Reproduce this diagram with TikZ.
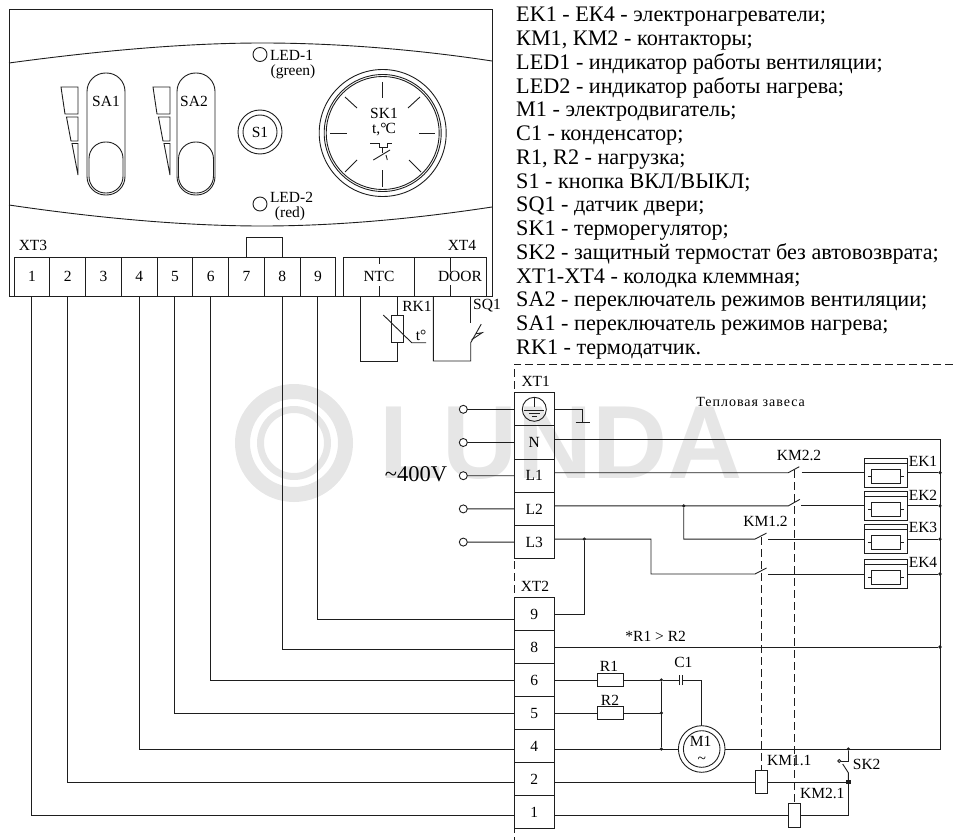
\documentclass[tikz,border=0pt]{standalone}
\usepackage{fontspec}
\setmainfont{Liberation Serif}
\newfontfamily\wmfont{Liberation Sans}
\usepackage{xcolor}
\usetikzlibrary{positioning}
\definecolor{inkline}{HTML}{1E1E1E}
\definecolor{wmgray}{HTML}{E6E6E6}
\tikzstyle{wire}     = [draw=inkline, line width=0.9pt]
\tikzstyle{link}     = [draw=inkline, line width=0.9pt, dash pattern=on 8pt off 4pt]
\tikzstyle{lbl}      = [font=\fontsize{15.5}{17}\selectfont, inner sep=0pt, outer sep=0pt]
\tikzstyle{legend}   = [font=\fontsize{22.2}{23.75}\selectfont, inner sep=0pt, align=left, anchor=north west]
\tikzstyle{xtcell}   = [rectangle, wire, lbl, minimum width=35.75pt, minimum height=39pt]
\tikzstyle{sidecell} = [rectangle, wire, lbl, minimum width=71.5pt, minimum height=39pt]
\tikzstyle{boxcell}  = [rectangle, wire, lbl, minimum width=40pt, minimum height=33.2pt]
\tikzstyle{ring}     = [circle, wire, inner sep=0pt, outer sep=0pt]
\tikzstyle{slotbox}  = [rectangle, wire, rounded corners=18.5pt, minimum width=38pt, inner sep=0pt, outer sep=0pt]
\tikzstyle{part}     = [rectangle, wire, inner sep=0pt, outer sep=0pt]
\tikzstyle{dot}      = [circle, fill=inkline, minimum size=3.6pt, inner sep=0pt, outer sep=0pt]
\tikzstyle{jack}     = [circle, wire, fill=white, minimum size=8pt, inner sep=0pt, outer sep=0pt]
\begin{document}
\begin{tikzpicture}[x=1pt, y=-1pt]
    \path [use as bounding box] (0,0) rectangle (953,840);

    \node (wmring) [circle, draw=wmgray, line width=15pt, minimum size=103pt, inner sep=0pt, outer sep=0pt] at (294,443) {};
    \node (wmcore) [circle, draw=wmgray, line width=7pt, minimum size=67pt, inner sep=0pt, outer sep=0pt] at (294,443) {};
    \node (wmtext) [text=wmgray, font=\wmfont\bfseries\fontsize{104}{108}\selectfont, inner sep=0pt] at (561,443) {LUNDA};

    \node (panel) [part, minimum width=483pt, minimum height=287pt] at (250.5,152.5) {};
    \draw [wire] (panel.north west |- 0,63) .. controls (90,52) and (180,43) .. (262,43) .. controls (340,43) and (420,50) .. (panel.north east |- 0,61);
    \draw [wire] (panel.north west |- 0,205) .. controls (90,217) and (180,226) .. (262,226) .. controls (340,226) and (420,218) .. (panel.north east |- 0,207);

    \node (led1) [ring, minimum size=14pt] at (260,54.5) {};
    \node (led2) [ring, minimum size=14pt] at (260,204) {};
    \node (txtled1) [lbl, anchor=west] at (270,55) {LED-1};
    \node (txtgreen) [lbl] at (293,72) {(green)};
    \node (txtled2) [lbl, anchor=west] at (270,197) {LED-2};
    \node (txtred) [lbl] at (290,214) {(red)};

    \node (sa1) [slotbox, minimum height=122pt] at (106,134) {};
    \node (sa1knob) [slotbox, minimum width=34pt, rounded corners=16.5pt, minimum height=51pt] at (106,167.5) {};
    \node (txtsa1) [lbl] at (106,101) {SA1};
    \node (sa2) [slotbox, minimum height=122pt] at (196,134) {};
    \node (sa2knob) [slotbox, minimum width=35pt, rounded corners=17pt, minimum height=51pt] at (196,167.5) {};
    \node (txtsa2) [lbl] at (194,101) {SA2};

    \draw [wire] (61,87) -- (78,87) -- (78,114) -- (65,114) -- cycle;
    \draw [wire] (66.5,117) -- (78,117) -- (78,141) -- (71,141) -- cycle;
    \draw [wire] (72,143.5) -- (78,143.5) -- (78,175) -- cycle;
    \draw [wire] (153,87) -- (170,87) -- (170,114) -- (157,114) -- cycle;
    \draw [wire] (158.5,117) -- (170,117) -- (170,141) -- (163,141) -- cycle;
    \draw [wire] (164,143.5) -- (170,143.5) -- (170,175) -- cycle;

    \node (s1out) [ring, minimum size=44pt] at (260,132) {};
    \node (s1) [ring, lbl, minimum size=34pt] at (260,132) {S1};

    \node (sk1out) [ring, minimum size=127pt] at (382.7,133) {};
    \node (sk1mid) [ring, minimum size=117pt] at (382.7,133) {};
    \node (sk1in) [ring, minimum size=113pt] at (382.7,133) {};
    \node (txtsk1) [lbl] at (384,113) {SK1};
    \node (txttemp) [lbl] at (384,130) {t,°\kern-1pt C};
    \draw [wire] (382.7,82) -- (382.7,98);
    \draw [wire] (382.7,170) -- (382.7,187);
    \draw [wire] (330,133) -- (347,133);
    \draw [wire] (419,133) -- (435,133);
    \draw [wire] (345,97) -- (357,108);
    \draw [wire] (420,97) -- (408,108);
    \draw [wire] (345,172) -- (357,160);
    \draw [wire] (421,172) -- (409,160);
    \draw [wire] (370,143.3) -- (379,143.3) -- (379,147.7) -- (387.3,147.7) -- (387.3,143.3) -- (392.3,143.3);
    \draw [wire] (382.7,147.7) -- (382.7,153);
    \draw [wire] (373.3,160) -- (390,150);
    \draw [wire] (386,155) -- (387.3,160);

    \node (t1) [xtcell] at (31.9,276.5) {1};
    \node (t2) [xtcell, right=0pt of t1] {2};
    \node (t3) [xtcell, right=0pt of t2] {3};
    \node (t4) [xtcell, right=0pt of t3] {4};
    \node (t5) [xtcell, right=0pt of t4] {5};
    \node (t6) [xtcell, right=0pt of t5] {6};
    \node (t7) [xtcell, right=0pt of t6] {7};
    \node (t8) [xtcell, right=0pt of t7] {8};
    \node (t9) [xtcell, right=0pt of t8] {9};
    \node (txtxt3) [lbl] at (33,245) {XT3};
    \draw [wire] (t7.north) -- ++(0,-20) -| (t8.north);

    \node (ntc) [sidecell] at (379,276.5) {NTC};
    \node (door) [sidecell, right=0pt of ntc] {};
    \node (txtdoor) [lbl] at (460,276.5) {DOOR};
    \node (txtxt4) [lbl] at (462,245) {XT4};
    \draw [wire] (ntc.north) -- ++(0,7);
    \draw [wire] (ntc.south) -- ++(0,-10);
    \draw [wire] (door.north) -- ++(0,15);
    \draw [wire] (door.south) -- ++(0,-11);

    \node (rk1) [part, minimum width=11.6pt, minimum height=27.7pt] at (397.5,329) {};
    \coordinate (ntcleft) at (360,296);
    \node (txtrk1) [lbl] at (417,306) {RK1};
    \node (txtt) [lbl] at (421,335) {t°};
    \draw [wire] (rk1.north) -- (rk1.north |- ntc.south);
    \draw [wire] (rk1.south) -- ++(0,18.3) -| (ntcleft);
    \draw [wire] (383.3,315) -- (411.7,342.7) -- (426,342.7);

    \coordinate (sq1left) at (433.3,296);
    \coordinate (sq1top) at (470.7,296);
    \coordinate (sq1low) at (470.7,342.7);
    \node (txtsq1) [lbl] at (487,306) {SQ1};
    \draw [wire] (sq1top) -- ++(0,27.3);
    \draw [wire] (sq1left) |- ++(37.4,65) -- (sq1low) -- ++(10.5,-18.5);
    \draw [wire] (sq1low) ++(1,-3) -- ++(10.5,-7) -- ++(-6,1);

    \node (legendlist) [legend] at (516,7) {%
EK1 - ЕК4 - электронагреватели;\\
КМ1, КМ2 - контакторы;\\
LED1 - индикатор работы вентиляции;\\
LED2 - индикатор работы нагрева;\\
М1 - электродвигатель;\\
С1 - конденсатор;\\
R1, R2 - нагрузка;\\
S1 - кнопка ВКЛ/ВЫКЛ;\\
SQ1 - датчик двери;\\
SK1 - терморегулятор;\\
SK2 - защитный термостат без автовозврата;\\
ХТ1-ХТ4 - колодка клеммная;\\
SA2 - переключатель режимов вентиляции;\\
SA1 - переключатель режимов нагрева;\\
RK1 - термодатчик.};

    \coordinate (frameright) at (953,364);
    \coordinate (framecorner) at (514.3,364);
    \coordinate (framelow) at (514.3,840);
    \draw [link] (frameright) -- (framecorner) -- (framelow);

    \node (txtxt1) [lbl] at (535.7,381) {XT1};
    \node (pe) [boxcell] at (534.3,409.3) {};
    \node (n) [boxcell, below=0pt of pe] {N};
    \node (l1) [boxcell, below=0pt of n] {L1};
    \node (l2) [boxcell, below=0pt of l1] {L2};
    \node (l3) [boxcell, below=0pt of l2] {L3};
    \node (txtxt2) [lbl] at (535,586) {XT2};
    \node (k9) [boxcell, minimum height=33pt] at (534.3,614) {9};
    \node (k8) [boxcell, minimum height=33pt, below=0pt of k9] {8};
    \node (k6) [boxcell, minimum height=33pt, below=0pt of k8] {6};
    \node (k5) [boxcell, minimum height=33pt, below=0pt of k6] {5};
    \node (k4) [boxcell, minimum height=33pt, below=0pt of k5] {4};
    \node (k2) [boxcell, minimum height=33pt, below=0pt of k4] {2};
    \node (k1) [boxcell, minimum height=33pt, below=0pt of k2] {1};
    \node (txtcurtain) [lbl, font=\fontsize{14}{15}\selectfont\addfontfeature{LetterSpace=7}] at (750.7,402) {Тепловая завеса};

    \node (pesym) [ring, minimum size=24pt] at (pe.center) {};
    \draw [wire] (pesym.north) -- ++(0,10);
    \draw [wire] ([xshift=-10pt,yshift=-1pt]pesym.center) -- ([xshift=10pt,yshift=-1pt]pesym.center);
    \draw [wire] ([xshift=-5.5pt,yshift=-4pt]pesym.center) -- ([xshift=5.5pt,yshift=-4pt]pesym.center);
    \draw [wire] ([xshift=-2.5pt,yshift=-7pt]pesym.center) -- ([xshift=2.5pt,yshift=-7pt]pesym.center);
    \coordinate (gnd) at (582.7,422.7);
    \draw [wire] (pe.east) -| (gnd);
    \draw [wire] ([xshift=-7pt]gnd) -- ([xshift=7pt]gnd);

    \node (in0) [jack] at (463.3,409.3) {};
    \node (in1) [jack] at (463.3,442.5) {};
    \node (in2) [jack] at (463.3,475.7) {};
    \node (in3) [jack] at (463.3,508.9) {};
    \node (in4) [jack] at (463.3,542.1) {};
    \node (txt400) [lbl, font=\fontsize{22.5}{24}\selectfont] at (416,474.5) {\textasciitilde400V};
    \draw [wire] (in0) -- (pe.west);
    \draw [wire] (in1) -- (n.west);
    \draw [wire] (in2) -- (l1.west);
    \draw [wire] (in3) -- (l2.west);
    \draw [wire] (in4) -- (l3.west);

    \draw [wire] (t9.south) |- ([yshift=-5pt]k9.west);
    \draw [wire] (t8.south) |- ([yshift=-2pt]k8.west);
    \draw [wire] (t6.south) |- (k6.west);
    \draw [wire] (t5.south) |- (k5.west);
    \draw [wire] (t4.south) |- ([yshift=-3pt]k4.west);
    \draw [wire] (t2.south) |- ([yshift=-3pt]k2.west);
    \draw [wire] (t1.south) |- ([yshift=-3pt]k1.west);

    \node (ek1) [part, minimum width=43.4pt, minimum height=29pt] at (886,472.7) {};
    \node (ek2) [part, minimum width=43.4pt, minimum height=29pt] at (886,505.9) {};
    \node (ek3) [part, minimum width=43.4pt, minimum height=29pt] at (886,539.1) {};
    \node (ek4) [part, minimum width=43.4pt, minimum height=29pt] at (886,574) {};
    \node (ek1in) [part, minimum width=28.3pt, minimum height=14pt] at ([yshift=-3.6pt]ek1.center) {};
    \node (ek2in) [part, minimum width=28.3pt, minimum height=14pt] at ([yshift=-3.6pt]ek2.center) {};
    \node (ek3in) [part, minimum width=28.3pt, minimum height=14pt] at ([yshift=-3.6pt]ek3.center) {};
    \node (ek4in) [part, minimum width=28.3pt, minimum height=14pt] at ([yshift=-3.6pt]ek4.center) {};
    \draw [wire] ([yshift=-5pt]ek1.north west) -- ([yshift=-5pt]ek1.north east);
    \draw [wire] ([yshift=-5pt]ek2.north west) -- ([yshift=-5pt]ek2.north east);
    \draw [wire] ([yshift=-5pt]ek3.north west) -- ([yshift=-5pt]ek3.north east);
    \draw [wire] ([yshift=-5pt]ek4.north west) -- ([yshift=-5pt]ek4.north east);
    \draw [wire] ([xshift=-4pt]ek1in.west) -- (ek1in.west);
    \draw [wire] ([xshift=4pt]ek1in.east) -- (ek1in.east);
    \draw [wire] ([xshift=-4pt]ek2in.west) -- (ek2in.west);
    \draw [wire] ([xshift=4pt]ek2in.east) -- (ek2in.east);
    \draw [wire] ([xshift=-4pt]ek3in.west) -- (ek3in.west);
    \draw [wire] ([xshift=4pt]ek3in.east) -- (ek3in.east);
    \draw [wire] ([xshift=-4pt]ek4in.west) -- (ek4in.west);
    \draw [wire] ([xshift=4pt]ek4in.east) -- (ek4in.east);
    \node (txtek1) [lbl] at (923,461.7) {EK1};
    \node (txtek2) [lbl] at (923,495) {EK2};
    \node (txtek3) [lbl] at (923,527.3) {EK3};
    \node (txtek4) [lbl] at (923,562.7) {EK4};

    \coordinate (sw1a) at (788.3,472.7);
    \coordinate (sw1b) at (801.7,472.7);
    \coordinate (sw2a) at (788.3,505.9);
    \coordinate (sw2b) at (801,505.9);
    \coordinate (sw3a) at (755,539.1);
    \coordinate (sw3b) at (768.3,539.1);
    \coordinate (sw4a) at (755,574);
    \coordinate (sw4b) at (768.3,574);
    \coordinate (l3bend) at (651,539.1);
    \coordinate (buscorner) at (940,749);
    \node (bus1) [dot] at (940,472.7) {};
    \node (bus2) [dot] at (940,505.9) {};
    \node (bus3) [dot] at (940,539.1) {};
    \node (bus4) [dot] at (940,574) {};
    \node (bus8) [dot] at (940,647) {};
    \node (l2dot) [dot] at (683.7,505.9) {};
    \node (l3dot) [dot] at (584.3,539.1) {};
    \node (txtkm22) [lbl] at (799,455) {KM2.2};
    \node (txtkm12) [lbl] at (765.5,521.5) {KM1.2};
    \node (txtnote) [lbl] at (655.7,636.7) {*R1 > R2};

    \draw [wire] ([yshift=3pt]l1.east) -- (sw1a) -- ++(11,-6);
    \draw [wire] (sw1b) -- (ek1.west);
    \draw [wire] ([yshift=3pt]l2.east) -- (sw2a) -- ++(11.5,-6.5);
    \draw [wire] (sw2b) -- (ek2.west);
    \draw [wire] (l2dot) |- (sw3a) -- ++(11.5,-6);
    \draw [wire] (sw3b) -- (ek3.west);
    \draw [wire] ([yshift=3pt]l3.east) -- (l3bend) |- (sw4a) -- ++(11.5,-6);
    \draw [wire] (sw4b) -- (ek4.west);
    \draw [wire] (ek1.east) -- (bus1);
    \draw [wire] (ek2.east) -- (bus2);
    \draw [wire] (ek3.east) -- (bus3);
    \draw [wire] (ek4.east) -- (bus4);
    \draw [wire] (l3dot) |- (k9.east);
    \draw [wire] (k8.east) -- (bus8);

    \node (r1) [part, minimum width=26pt, minimum height=13.3pt] at (610.3,680) {};
    \node (r2) [part, minimum width=26pt, minimum height=13.3pt] at (610.3,713) {};
    \node (txtr1) [lbl] at (609,666) {R1};
    \node (txtr2) [lbl] at (610,700) {R2};
    \node (txtc1) [lbl] at (683.3,662.7) {C1};
    \node (d6) [dot] at (661.3,680) {};
    \node (d5) [dot] at (661.3,713) {};
    \node (d4) [dot] at (661.3,749) {};
    \coordinate (c1left) at (679,680);
    \coordinate (c1right) at (682,680);
    \node (m1out) [ring, minimum size=46.6pt] at (701.7,749) {};
    \node (m1) [ring, minimum size=36.6pt] at (701.7,749) {};
    \node (txtm1) [lbl] at (700.7,741) {M1};
    \node (txtac) [lbl] at (701.7,760) {\textasciitilde};

    \draw [wire] ([yshift=3pt]n.east) -| (buscorner) -- (m1out.east);
    \draw [wire] (k6.east) -- (r1.west);
    \draw [wire] (r1.east) -- (d6) -- (c1left);
    \draw [wire] ([yshift=-5pt]c1left) -- ([yshift=5pt]c1left);
    \draw [wire] ([yshift=-5pt]c1right) -- ([yshift=5pt]c1right);
    \draw [wire] (c1right) -| (m1out.north);
    \draw [wire] (k5.east) -- (r2.west);
    \draw [wire] (r2.east) -- (d5);
    \draw [wire] (d6) -- (d4);
    \draw [wire] ([yshift=-3pt]k4.east) -- (m1out.west);

    \node (km11) [part, fill=white, minimum width=11.6pt, minimum height=23.4pt] at (761.5,782) {};
    \node (km21) [part, fill=white, minimum width=12pt, minimum height=24pt] at (794.7,815) {};
    \node (txtkm11) [lbl] at (789.3,760.7) {KM1.1};
    \node (txtkm21) [lbl] at (822.3,793) {KM2.1};
    \coordinate (km1top) at (761.5,537);
    \coordinate (km2top) at (794.7,470);
    \draw [link] (km1top) -- (km11.north);
    \draw [link] (km2top) -- (km21.north);

    \node (sk2top) [dot] at (848.3,749) {};
    \node (sk2low) [rectangle, fill=inkline, minimum size=4.4pt, inner sep=0pt, outer sep=0pt] at (848.3,782) {};
    \node (sk2pin) [circle, wire, fill=white, minimum size=3pt, inner sep=0pt, outer sep=0pt] at (839.3,761) {};
    \node (txtsk2) [lbl] at (866.7,764.3) {SK2};
    \draw [wire] ([yshift=-3pt]k2.east) -- (km11.west);
    \draw [wire] (km11.east) -- (sk2low);
    \draw [wire] ([yshift=-3pt]k1.east) -- (km21.west);
    \draw [wire] (km21.east) -| (sk2low);
    \draw [wire] (sk2top) |- (sk2pin.east);
    \draw [wire] (sk2low) -- ++(0,-9.3) -- ++(-5.6,-8.7);
\end{tikzpicture}
\end{document}
